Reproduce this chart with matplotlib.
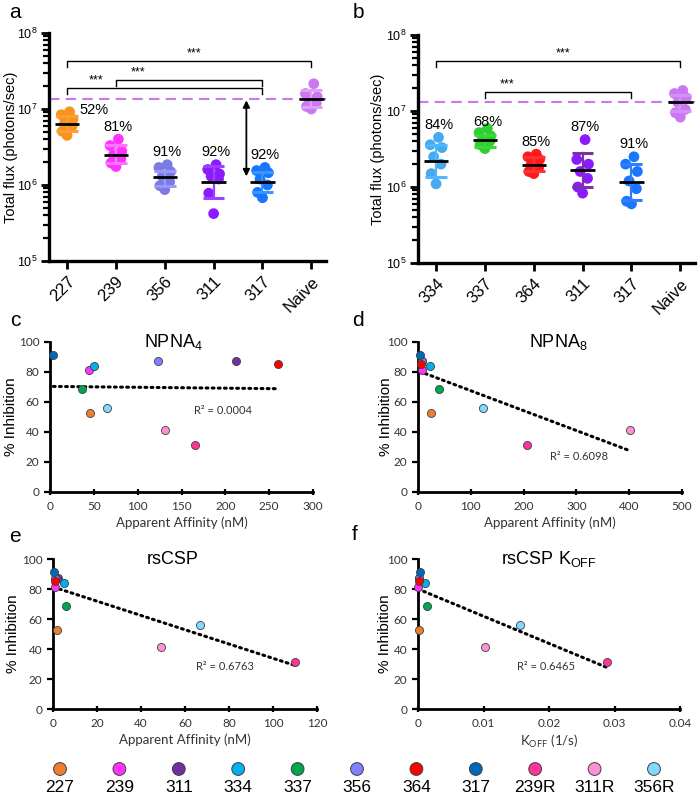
import numpy as np
import matplotlib
matplotlib.use('Agg')
import matplotlib.pyplot as plt
from matplotlib.ticker import LogLocator, FixedLocator, NullFormatter

plt.rcParams['font.family'] = ['Liberation Sans', 'DejaVu Sans']
plt.rcParams['mathtext.fontset'] = 'custom'
plt.rcParams['mathtext.rm'] = 'Liberation Sans'
plt.rcParams['mathtext.it'] = 'Liberation Sans'
plt.rcParams['mathtext.default'] = 'regular'

# ---- panel a: total flux per group ----
groups_a = ['227', '239', '356', '311', '317', 'Naive']
flux_a = [
    [9.2e6, 8.4e6, 7.3e6, 6.6e6, 5.9e6, 5.1e6, 4.5e6],
    [4.0e6, 3.3e6, 2.8e6, 2.5e6, 2.2e6, 1.95e6, 1.75e6],
    [1.85e6, 1.7e6, 1.5e6, 1.3e6, 1.1e6, 0.98e6, 0.87e6],
    [1.85e6, 1.6e6, 1.4e6, 1.3e6, 1.2e6, 0.78e6, 0.42e6],
    [1.7e6, 1.55e6, 1.45e6, 1.2e6, 1.0e6, 0.8e6, 0.68e6],
    [2.15e7, 1.6e7, 1.45e7, 1.35e7, 1.2e7, 1.08e7, 1.0e7],
]
mean_a = [6.4e6, 2.5e6, 1.26e6, 1.08e6, 1.1e6, 1.35e7]
hi_a = [8.0e6, 3.4e6, 1.55e6, 1.8e6, 1.48e6, 1.76e7]
lo_a = [5.1e6, 1.95e6, 0.98e6, 0.67e6, 0.81e6, 1.06e7]
pct_a = ['52%', '81%', '91%', '92%', '92%', None]
naive_a = 1.35e7

# ---- panel b ----
groups_b = ['334', '337', '364', '311', '317', 'Naive']
flux_b = [
    [4.5e6, 3.6e6, 3.3e6, 2.5e6, 2.0e6, 1.5e6, 1.1e6],
    [5.9e6, 5.2e6, 4.7e6, 4.3e6, 4.0e6, 3.6e6, 3.2e6],
    [2.7e6, 2.5e6, 2.3e6, 2.0e6, 1.8e6, 1.6e6, 1.5e6],
    [4.2e6, 2.3e6, 2.0e6, 1.6e6, 1.3e6, 1.0e6, 0.83e6],
    [2.5e6, 2.0e6, 1.6e6, 1.2e6, 0.95e6, 0.65e6, 0.6e6],
    [1.86e7, 1.7e7, 1.5e7, 1.3e7, 1.05e7, 9.5e6, 8.3e6],
]
mean_b = [2.17e6, 4.17e6, 1.96e6, 1.68e6, 1.15e6, 1.33e7]
hi_b = [3.6e6, 4.9e6, 2.5e6, 2.8e6, 2.0e6, 1.6e7]
lo_b = [1.34e6, 3.4e6, 1.6e6, 1.0e6, 0.68e6, 1.01e7]
pct_b = ['84%', '68%', '85%', '87%', '91%', None]
naive_b = 1.33e7

# ---- panels c-f: inhibition vs affinity ----
mabs = ['227', '239', '311', '334', '337', '356', '364', '317', '239R', '311R', '356R']
inhibition = [52.5, 81.2, 87.6, 83.8, 68.5, 87.6, 85.6, 91.6, 31.3, 41.6, 56.0]
aff_npna4 = [46, 44.5, 212, 50, 37, 123, 260, 3.8, 165, 131, 65]
aff_npna8 = [24, 7.6, 7, 22.8, 40, 8, 5, 3, 206, 402, 124]
aff_rscsp = [1.8, 0.75, 2.1, 5.2, 5.8, 1.0, 1.1, 0.3, 109.8, 49, 66.8]
koff_rscsp = [0.0002, 0.0, 0.0001, 0.0011, 0.0013, 0.0001, 0.0001, 0.00036, 0.0288, 0.0102, 0.0156]
# trendline intercept / slope as shown
trend_c = (70.4, -0.0059)
trend_d = (80.8, -0.1328)
trend_e = (81.4, -0.476)
trend_f = (80.0, -1814.0)
r2 = ['0.0004', '0.6098', '0.6763', '0.6465']

# colours
col_a = ['#f7931e', '#ff33ff', '#7b7be8', '#8c1aff', '#1a75ff', '#cc77f2']
bar_a = ['#ff9f33', '#ff77ff', '#9a9af2', '#a040ff', '#3399ff', '#dda0f7']
col_b = ['#45aaee', '#33cc33', '#ff1a1a', '#8c1aff', '#1a75ff', '#cc77f2']
bar_b = ['#4db8ff', '#33dd33', '#ff3333', '#7a33a0', '#2e7fff', '#d58ff5']
mab_col = ['#ed7d31', '#ff33ff', '#7030a0', '#00b0f0', '#00a550', '#7f7fff',
           '#ff0000', '#0068b7', '#ff3399', '#ff8fd6', '#7fd8ff']

jitter = np.array([0.05, -0.12, 0.12, -0.05, 0.1, -0.1, 0.0])

fig = plt.figure(figsize=(7, 8), dpi=100)


def px_axes(l, t, r, b):
    return fig.add_axes([l / 700, 1 - b / 800, (r - l) / 700, (b - t) / 800])


def flux_panel(ax, groups, flux, mean, hi, lo, pct, col, bar, naive, label_x):
    x = np.arange(len(groups))
    for i in x:
        ax.scatter(i + jitter[:len(flux[i])], flux[i], s=60, color=col[i],
                   edgecolor='none', zorder=3)
        ax.plot([i, i], [lo[i], hi[i]], color=bar[i], lw=1.6, zorder=4)
        for v in (lo[i], hi[i]):
            ax.plot([i - 0.22, i + 0.22], [v, v], color=bar[i], lw=2.2,
                    solid_capstyle='butt', zorder=4)
        ax.plot([i - 0.25, i + 0.25], [mean[i], mean[i]], color='black',
                lw=2.0, solid_capstyle='butt', zorder=5)
    ax.axhline(naive, color='#cc77f2', lw=1.5, ls=(0, (5, 3)), zorder=2)
    ax.set_yscale('log')
    ax.set_ylim(1e5, 1e8)
    ax.set_xlim(-0.37, 5.3)
    ax.set_xticks(x)
    ax.set_xticklabels(groups, rotation=45, ha='right', rotation_mode='anchor',
                       fontsize=12)
    ax.yaxis.set_major_locator(FixedLocator([1e5, 1e6, 1e7, 1e8]))
    ax.yaxis.set_minor_locator(LogLocator(base=10, subs=np.arange(2, 10)))
    ax.yaxis.set_minor_formatter(NullFormatter())
    ax.set_yticklabels(['$10^5$', '$10^6$', '$10^7$', '$10^8$'], fontsize=9)
    for s in ('top', 'right'):
        ax.spines[s].set_visible(False)
    for s in ('left', 'bottom'):
        ax.spines[s].set_linewidth(2.4)
    ax.tick_params(axis='both', which='major', width=2, length=6)
    ax.tick_params(axis='y', which='major', pad=2)
    ax.tick_params(axis='y', which='minor', width=1.6, length=4)
    ax.set_ylabel('Total flux (photons/sec)', fontsize=10.5)
    ax.yaxis.set_label_coords(label_x, 0.5)
    for i in x:
        if pct[i] is None:
            continue
        ax.text(i + 0.05, max(flux[i]) * 1.45, pct[i], ha='center',
                va='center', fontsize=10.5)


def bracket(ax, x0, x1, y, star_x):
    ax.plot([x0, x0, x1, x1], [y / 1.2, y, y, y / 1.2], color='black', lw=1)
    ax.text(star_x, y * 1.04, '***', ha='center', va='bottom', fontsize=9)


# panel a
ax_a = px_axes(49, 33, 326, 261)
flux_panel(ax_a, groups_a, flux_a, mean_a, hi_a, lo_a, pct_a, col_a, bar_a,
           naive_a, -0.112)
ax_a.texts[0].set_position((0.55, 9.8e6))
bracket(ax_a, 0, 5, 4.33e7, 2.6)
bracket(ax_a, 1, 4, 2.43e7, 1.45)
bracket(ax_a, 0, 4, 1.89e7, 0.6)
ax_a.annotate('', xy=(3.67, 1.3e6), xytext=(3.67, 1.3e7),
              arrowprops=dict(arrowstyle='<|-|>', color='black', lw=1.3,
                              mutation_scale=10, shrinkA=0, shrinkB=0))

# panel b
ax_b = px_axes(418, 35, 695, 263)
flux_panel(ax_b, groups_b, flux_b, mean_b, hi_b, lo_b, pct_b, col_b, bar_b,
           naive_b, -0.119)
ax_b.texts[1].set_position((1.05, 7.2e6))
bracket(ax_b, 0, 5, 4.6e7, 2.6)
bracket(ax_b, 1, 4, 1.8e7, 1.45)


def inhib_panel(ax, xvals, trend, xmax, xticks, title, title_x, xlabel, r2txt,
                r2pos, label_x):
    for xi, yi, c in zip(xvals, inhibition, mab_col):
        ax.scatter(xi, yi, s=34, color=c, edgecolor='#404040', linewidth=0.6,
                   zorder=3, clip_on=False)
    xs = np.array([min(xvals), max(xvals)])
    ax.plot(xs, trend[0] + trend[1] * xs, color='black', lw=2.2,
            ls=(0, (0.6, 1.4)), dash_capstyle='round', zorder=2)
    ax.set_xlim(0, xmax)
    ax.set_ylim(0, 100)
    ax.set_xticks(xticks)
    ax.set_yticks([0, 20, 40, 60, 80, 100])
    for s in ('top', 'right'):
        ax.spines[s].set_visible(False)
    for s in ('left', 'bottom'):
        ax.spines[s].set_linewidth(2.0)
    ax.tick_params(axis='x', direction='inout', length=5, width=1.6,
                   labelsize=8.5, pad=4)
    ax.tick_params(axis='y', direction='out', length=4, width=1.6,
                   labelsize=8.5)
    for lab in ax.get_xticklabels() + ax.get_yticklabels():
        lab.set_family(['Lato', 'DejaVu Sans'])
        lab.set_color('#333333')
    ax.text(title_x, 1.0, title, transform=ax.transAxes, fontsize=13,
            ha='center', va='center')
    ax.set_ylabel('% Inhibition', fontsize=11)
    ax.yaxis.set_label_coords(label_x, 0.5)
    ax.set_xlabel(xlabel, fontsize=9.5, family=['Lato', 'DejaVu Sans'],
                  color='#333333', labelpad=3)
    ax.text(r2pos[0], r2pos[1], 'R² = ' + r2txt, fontsize=8,
            family=['Lato', 'DejaVu Sans'], color='#333333', ha='center',
            va='center')


ax_c = px_axes(50, 342, 313, 492)
inhib_panel(ax_c, aff_npna4, trend_c, 300, [0, 50, 100, 150, 200, 250, 300],
            'NPNA$_4$', 0.47, 'Apparent Affinity (nM)', r2[0], (197, 54), -0.12)
ax_d = px_axes(418, 342, 682, 492)
inhib_panel(ax_d, aff_npna8, trend_d, 500, [0, 100, 200, 300, 400, 500],
            'NPNA$_8$', 0.53, 'Apparent Affinity (nM)', r2[1], (305, 24), -0.095)
ax_e = px_axes(53, 559, 317, 709)
inhib_panel(ax_e, aff_rscsp, trend_e, 120, [0, 20, 40, 60, 80, 100, 120],
            'rsCSP', 0.455, 'Apparent Affinity (nM)', r2[2], (78, 28), -0.125)
ax_f = px_axes(418, 559, 680, 709)
inhib_panel(ax_f, koff_rscsp, trend_f, 0.04, [0, 0.01, 0.02, 0.03, 0.04],
            'rsCSP K$_{OFF}$', 0.5, 'K$_{OFF}$ (1/s)', r2[3], (0.0195, 28), -0.10)
ax_f.set_xticklabels(['0', '0.01', '0.02', '0.03', '0.04'])
for lab in ax_f.get_xticklabels():
    lab.set_family(['Lato', 'DejaVu Sans'])
    lab.set_color('#333333')

# panel letters
for letter, (x, y) in zip('abcdef', [(15, 12), (358, 12), (15, 320), (358, 320),
                                       (15, 537), (355, 535)]):
    fig.text(x / 700, 1 - y / 800, letter, fontsize=15, ha='center', va='center')

# colour key along the bottom
leg = fig.add_axes([0, 0, 1, 0.07])
leg.set_xlim(0, 700)
leg.set_ylim(0, 56)
leg.axis('off')
key_x = np.linspace(60, 654, len(mabs))
leg.scatter(key_x, np.full(len(mabs), 31), s=85, color=mab_col,
            edgecolor='#404040', linewidth=0.7)
for xk, name in zip(key_x, mabs):
    leg.text(xk, 12, name, ha='center', va='center', fontsize=12.5)

fig.savefig('out.png', dpi=100)
